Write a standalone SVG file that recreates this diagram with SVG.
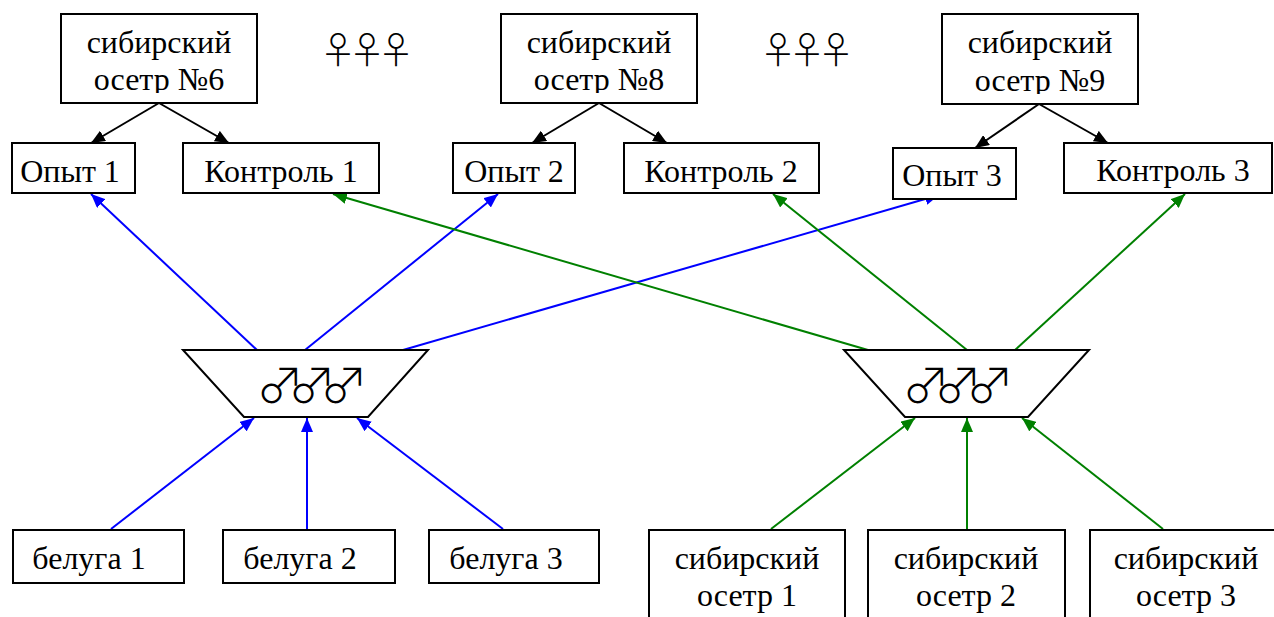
<svg xmlns="http://www.w3.org/2000/svg" width="1274" height="617" viewBox="0 0 1274 617">
<style>
.box{fill:#fff;stroke:#000;stroke-width:2}
.t{font-family:"Liberation Serif","Times New Roman",serif;font-size:32px;fill:#000;text-anchor:middle}
.sym{font-family:"Noto Sans CJK JP","Noto Sans CJK SC",sans-serif;font-weight:300;fill:#000}
.fem{font-size:37px;letter-spacing:-8px}
.mal{font-size:48px;letter-spacing:-16px}
.k{stroke:#000;stroke-width:2;fill:none}
.b{stroke:#0000ff;stroke-width:2;fill:none}
.g{stroke:#008000;stroke-width:2;fill:none}
</style>
<defs>
<marker id="ak" viewBox="0 0 14 12" refX="14" refY="6" markerWidth="14" markerHeight="12" markerUnits="userSpaceOnUse" orient="auto"><path d="M0,0 L14,6 L0,12 z" fill="#000"/></marker>
<marker id="ab" viewBox="0 0 14 12" refX="14" refY="6" markerWidth="14" markerHeight="12" markerUnits="userSpaceOnUse" orient="auto"><path d="M0,0 L14,6 L0,12 z" fill="#0000ff"/></marker>
<marker id="ag" viewBox="0 0 14 12" refX="14" refY="6" markerWidth="14" markerHeight="12" markerUnits="userSpaceOnUse" orient="auto"><path d="M0,0 L14,6 L0,12 z" fill="#008000"/></marker>
<clipPath id="c6"><rect x="61" y="14" width="196" height="79"/></clipPath>
<clipPath id="c8"><rect x="501" y="14" width="196" height="79"/></clipPath>
<clipPath id="c9"><rect x="942" y="14" width="196" height="80"/></clipPath>
</defs>

<g id="connectors">
<line class="k" x1="159" y1="103" x2="91" y2="143" marker-end="url(#ak)"/>
<line class="k" x1="159" y1="103" x2="229" y2="143" marker-end="url(#ak)"/>
<line class="k" x1="599" y1="103" x2="532" y2="143" marker-end="url(#ak)"/>
<line class="k" x1="599" y1="103" x2="667" y2="143" marker-end="url(#ak)"/>
<line class="k" x1="1039" y1="104" x2="975" y2="148" marker-end="url(#ak)"/>
<line class="k" x1="1039" y1="104" x2="1108" y2="143" marker-end="url(#ak)"/>

<line class="b" x1="257" y1="350" x2="91" y2="194" marker-end="url(#ab)"/>
<line class="b" x1="305" y1="350" x2="498" y2="194" marker-end="url(#ab)"/>
<line class="b" x1="403" y1="350" x2="939" y2="195" marker-end="url(#ab)"/>

<line class="g" x1="868" y1="350" x2="333" y2="194" marker-end="url(#ag)"/>
<line class="g" x1="967" y1="350" x2="773" y2="194" marker-end="url(#ag)"/>
<line class="g" x1="1015" y1="350" x2="1185" y2="194" marker-end="url(#ag)"/>

<line class="b" x1="111" y1="529" x2="254" y2="418" marker-end="url(#ab)"/>
<line class="b" x1="307" y1="529" x2="307" y2="418" marker-end="url(#ab)"/>
<line class="b" x1="503" y1="529" x2="357" y2="418" marker-end="url(#ab)"/>

<line class="g" x1="771" y1="529" x2="915" y2="418" marker-end="url(#ag)"/>
<line class="g" x1="967" y1="529" x2="967" y2="418" marker-end="url(#ag)"/>
<line class="g" x1="1163" y1="529" x2="1022" y2="418" marker-end="url(#ag)"/>
</g>

<g id="female6">
<rect class="box" x="61" y="14" width="196" height="89"/>
<g clip-path="url(#c6)"><text class="t" x="159" y="53">сибирский</text><text class="t" x="159" y="90">осетр №6</text></g>
</g>
<g id="female8">
<rect class="box" x="501" y="14" width="196" height="89"/>
<g clip-path="url(#c8)"><text class="t" x="599" y="53">сибирский</text><text class="t" x="599" y="90">осетр №8</text></g>
</g>
<g id="female9">
<rect class="box" x="942" y="14" width="196" height="90"/>
<g clip-path="url(#c9)"><text class="t" x="1040" y="53">сибирский</text><text class="t" x="1040" y="91">осетр №9</text></g>
</g>

<g id="females1"><text class="sym fem" x="319.5" y="64">♀♀♀</text></g>
<g id="females2"><text class="sym fem" x="759.5" y="64">♀♀♀</text></g>

<g id="exp1"><rect class="box" x="12" y="143" width="123" height="50"/><text class="t" x="70" y="182">Опыт 1</text></g>
<g id="ctrl1"><rect class="box" x="183" y="143" width="196" height="50"/><text class="t" x="281" y="182">Контроль 1</text></g>
<g id="exp2"><rect class="box" x="453" y="143" width="122" height="50"/><text class="t" x="514" y="182">Опыт 2</text></g>
<g id="ctrl2"><rect class="box" x="624" y="143" width="195" height="50"/><text class="t" x="721" y="182">Контроль 2</text></g>
<g id="exp3"><rect class="box" x="893" y="148" width="123" height="51"/><text class="t" x="952" y="186">Опыт 3</text></g>
<g id="ctrl3"><rect class="box" x="1064" y="143" width="208" height="50"/><text class="t" x="1173" y="181">Контроль 3</text></g>

<g id="males1">
<polygon class="box" points="183,350 428,350 368,417 244,417"/>
<text class="sym mal" x="256" y="403">♂♂♂</text>
</g>
<g id="males2">
<polygon class="box" points="844,350 1089,350 1028,417 905,417"/>
<text class="sym mal" x="902" y="403">♂♂♂</text>
</g>

<g id="beluga1"><rect class="box" x="13" y="530" width="171" height="53"/><text class="t" x="89" y="569">белуга 1</text></g>
<g id="beluga2"><rect class="box" x="223" y="530" width="172" height="53"/><text class="t" x="300" y="569">белуга 2</text></g>
<g id="beluga3"><rect class="box" x="429" y="530" width="170" height="53"/><text class="t" x="506" y="569">белуга 3</text></g>

<g id="siberian1"><rect class="box" x="649" y="530" width="196" height="100"/><text class="t" x="747" y="569">сибирский</text><text class="t" x="747" y="606">осетр 1</text></g>
<g id="siberian2"><rect class="box" x="868" y="530" width="197" height="100"/><text class="t" x="966" y="569">сибирский</text><text class="t" x="966" y="606">осетр 2</text></g>
<g id="siberian3"><rect class="box" x="1090" y="530" width="196" height="100"/><text class="t" x="1186" y="569">сибирский</text><text class="t" x="1186" y="606">осетр 3</text></g>
</svg>
